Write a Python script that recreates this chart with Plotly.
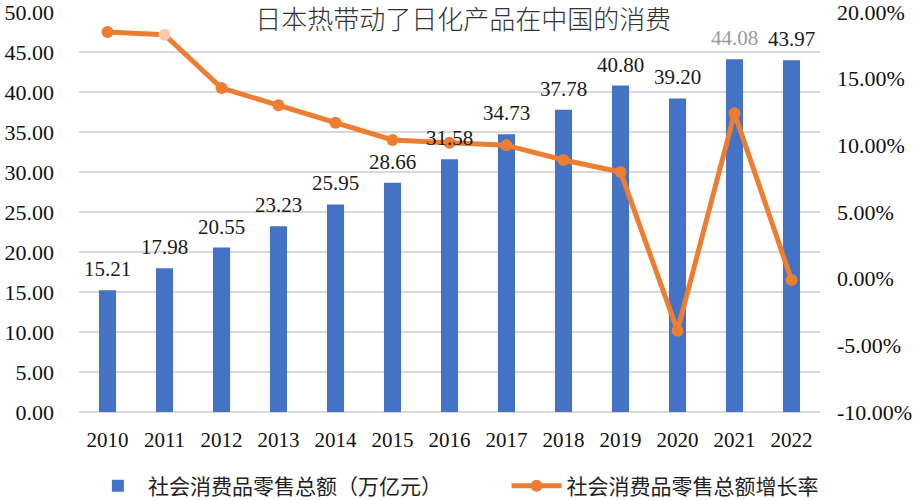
import plotly.graph_objects as go

years = ["2010", "2011", "2012", "2013", "2014", "2015", "2016",
         "2017", "2018", "2019", "2020", "2021", "2022"]
retail_total = [15.21, 17.98, 20.55, 23.23, 25.95, 28.66, 31.58,
                34.73, 37.78, 40.80, 39.20, 44.08, 43.97]
growth_rate = [18.5, 18.3, 14.3, 13.0, 11.7, 10.4, 10.2,
               10.0, 8.9, 8.0, -3.9, 12.4, -0.1]
rate_ticks = [-10, -5, 0, 5, 10, 15, 20]
rate_tick_text = ["-10.00%", "-5.00%", "0.00%", "5.00%", "10.00%", "15.00%", "20.00%"]
bar_name = "社会消费品零售总额（万亿元）"
line_name = "社会消费品零售总额增长率"
title_text = "日本热带动了日化产品在中国的消费"

serif = "Liberation Serif, Times New Roman, serif"
cjk = "Noto Sans CJK SC"

label_colors = ["#1a1a1a"] * len(years)
label_colors[11] = "#9a9a9a"
marker_colors = ["#ED7D31"] * len(years)
marker_colors[1] = "#F8CBAD"

fig = go.Figure()
fig.add_trace(go.Bar(
    x=years, y=retail_total, name=bar_name, legend="legend",
    marker=dict(color="#4472C4", line=dict(width=0)),
))
fig.add_trace(go.Scatter(
    x=years, y=growth_rate, name=line_name, yaxis="y2", legend="legend2",
    mode="lines+markers",
    line=dict(color="#ED7D31", width=5),
    marker=dict(color=marker_colors, size=12),
))

annotations = []
for idx, (val, col) in enumerate(zip(retail_total, label_colors)):
    annotations.append(dict(
        x=idx, y=val, xref="x", yref="y", text=f"{val:.2f}",
        showarrow=False, yanchor="bottom", yshift=7,
        font=dict(family=serif, size=21, color=col),
    ))

legend_common = dict(orientation="h", xanchor="left", y=-0.185, yanchor="middle",
                     font=dict(family=cjk, size=21, color="#222222"),
                     borderwidth=0, itemwidth=50, bgcolor="rgba(0,0,0,0)")

fig.update_layout(
    width=919, height=500,
    margin=dict(l=79, r=99, t=12, b=88, autoexpand=False),
    paper_bgcolor="white", plot_bgcolor="white",
    bargap=0.7,
    annotations=annotations,
    title=dict(text=title_text, x=0.504, xanchor="center", y=0.96, yanchor="middle",
               font=dict(family=cjk, size=26, color="#333333", weight=300)),
    xaxis=dict(type="category", range=[-0.5, len(years) - 0.5],
               tickfont=dict(family=serif, size=21, color="#111111"),
               showgrid=False, showline=False, ticks="", automargin=False,
               ticklabelstandoff=13),
    yaxis=dict(range=[0, 50], dtick=5, tickformat=".2f",
               tickfont=dict(family=serif, size=22, color="#111111"),
               gridcolor="#D9D9D9", gridwidth=1.5, zeroline=True,
               zerolinecolor="#D9D9D9", zerolinewidth=1.5,
               ticks="", ticklabelstandoff=24, automargin=False,
               ticklabeloverflow="allow"),
    yaxis2=dict(range=[-10, 20], tickmode="array", tickvals=rate_ticks,
                ticktext=rate_tick_text,
                overlaying="y", side="right", showgrid=False, zeroline=False,
                tickfont=dict(family=serif, size=22, color="#111111"),
                ticks="", ticklabelstandoff=16, automargin=False,
                ticklabeloverflow="allow"),
    legend=dict(x=0.012, **legend_common),
    legend2=dict(x=0.577, **legend_common),
    showlegend=True,
)

fig.write_html("out.html", config={"displayModeBar": False},
               post_script="document.body.style.margin='0';")
